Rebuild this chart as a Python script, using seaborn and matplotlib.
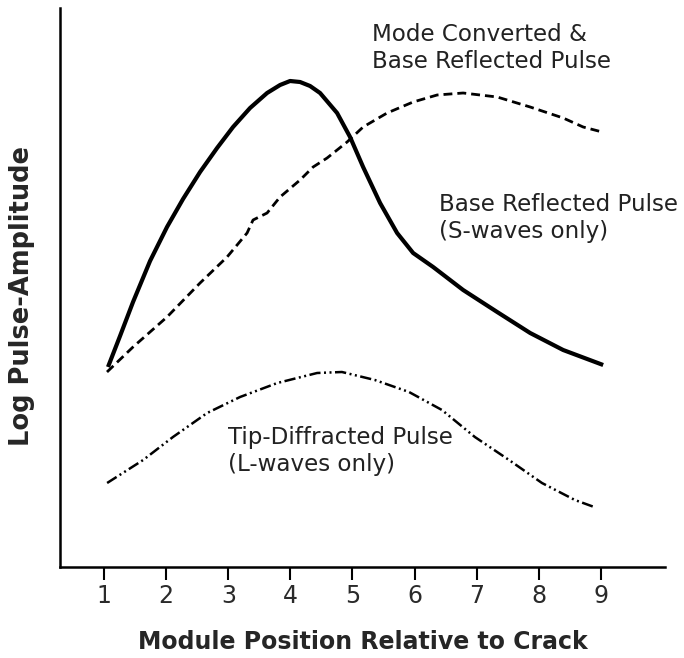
import matplotlib
matplotlib.use("Agg")
import matplotlib.pyplot as plt
import seaborn as sns
import pandas as pd

# Data (arbitrary log-amplitude units)
base_x = [1.064, 1.258, 1.467, 1.741, 2.014, 2.272, 2.546, 2.820, 3.077, 3.351, 3.625, 3.834,
          3.995, 4.156, 4.317, 4.478, 4.752, 4.961, 5.171, 5.444, 5.718, 5.976, 6.298, 6.781,
          7.329, 7.860, 8.391, 9.035]
base_y = [200, 231, 265, 306, 340, 368, 395, 419, 440, 459, 474, 482,
          486, 485, 481, 474, 454, 430, 400, 364, 334, 314, 300, 277,
          255, 234, 217, 202]

mode_x = [1.048, 1.467, 2.014, 2.546, 2.981, 3.303, 3.399, 3.625, 3.834, 4.156, 4.366, 4.591,
          4.913, 5.171, 5.557, 5.976, 6.362, 6.781, 7.329, 7.860, 8.391, 8.713, 9.019]
mode_y = [195, 220, 250, 284, 310, 334, 347, 354, 370, 387, 400, 409,
          425, 440, 454, 465, 472, 474, 470, 460, 449, 440, 435]

tip_x = [1.05, 1.63, 2.11, 2.66, 3.19, 3.79, 4.43, 4.83, 5.36, 5.91, 6.44, 6.97, 7.52, 8.05, 8.58, 8.89]
tip_y = [84, 107, 130, 154, 170, 184, 194, 195, 187, 175, 157, 130, 107, 84, 67, 60]

xticks = [1, 2, 3, 4, 5, 6, 7, 8, 9]

sns.set_theme(style="white")
plt.rcParams['font.family'] = ['DejaVu Sans']

fig = plt.figure(figsize=(6.84, 6.58), dpi=100)
ax = fig.add_axes([60/684, 1 - 567/658, (665-60)/684, (567-8)/658])

df_base = pd.DataFrame({"x": base_x, "y": base_y})
df_mode = pd.DataFrame({"x": mode_x, "y": mode_y})
df_tip = pd.DataFrame({"x": tip_x, "y": tip_y})

sns.lineplot(data=df_base, x="x", y="y", ax=ax, color="black", lw=3.0, sort=False,
             solid_capstyle="butt", solid_joinstyle="round")
sns.lineplot(data=df_mode, x="x", y="y", ax=ax, color="black", lw=2.0, sort=False)
ax.lines[-1].set_dashes([3.2, 1.8])
sns.lineplot(data=df_tip, x="x", y="y", ax=ax, color="black", lw=1.8, sort=False)
ax.lines[-1].set_dashes([4.5, 1.4, 0.8, 1.4, 0.8, 1.4])

ax.set_xlim(1 - 44/62.1, 9 + 64/62.1)
ax.set_ylim(0, 559)

for s in ["top", "right"]:
    ax.spines[s].set_visible(False)
for s in ["left", "bottom"]:
    ax.spines[s].set_color("black")
    ax.spines[s].set_linewidth(1.8)

ax.set_xticks(xticks)
ax.set_xticklabels([str(t) for t in xticks], fontsize=17)
ax.set_yticks([])
ax.tick_params(axis="x", direction="out", length=9, width=1.5, color="black",
               bottom=True, pad=3, labelcolor="#2a2a2a")

ax.set_xlabel("Module Position Relative to Crack", fontsize=17, fontweight="bold", labelpad=16)
ax.set_ylabel("Log Pulse-Amplitude", fontsize=18.5, fontweight="bold")
ax.yaxis.set_label_coords(-25/605, 0.485)

txt_kw = dict(fontsize=16.6, color="#222222", ha="left", va="center", linespacing=1.22)
ax.text(5.316, 519, "Mode Converted &\nBase Reflected Pulse", **txt_kw)
ax.text(6.394, 349, "Base Reflected Pulse\n(S-waves only)", **txt_kw)
ax.text(2.997, 116, "Tip-Diffracted Pulse\n(L-waves only)", **txt_kw)

fig.savefig("out.png", dpi=100)
